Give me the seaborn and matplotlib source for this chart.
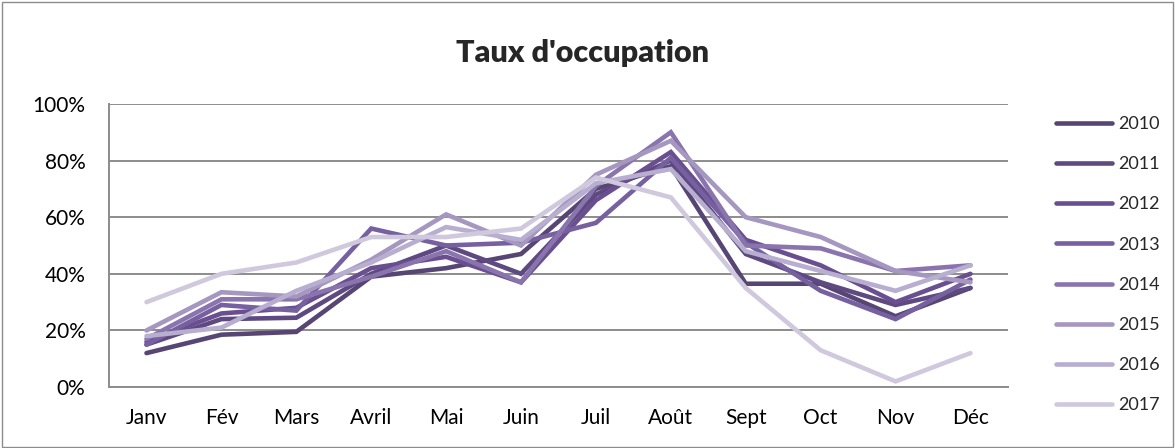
import pandas as pd
import matplotlib.pyplot as plt
import seaborn as sns
from matplotlib.patches import Rectangle
from matplotlib.ticker import PercentFormatter

# --- Data (occupancy rate, %) ---
months = ["Janv", "Fév", "Mars", "Avril", "Mai", "Juin",
          "Juil", "Août", "Sept", "Oct", "Nov", "Déc"]
years = ["2010", "2011", "2012", "2013", "2014", "2015", "2016", "2017"]

taux_2010 = [12, 18.5, 19.5, 39, 42, 47, 70, 78, 36.5, 36.5, 25, 35]
taux_2011 = [15, 24, 24.5, 40, 50, 40, 68, 80, 47, 37, 29, 35]
taux_2012 = [16, 26, 28, 42, 46, 37, 66, 83, 52, 43, 30, 40]
taux_2013 = [15, 29, 27, 56, 50, 51, 58, 81, 51, 34, 24, 38]
taux_2014 = [17, 31, 31, 39, 48, 37, 71, 90, 50, 49, 41, 43]
taux_2015 = [20, 33.5, 32, 45, 61, 50, 75, 87, 60, 53, 41, 37]
taux_2016 = [18, 21, 34, 44, 56.5, 52, 72, 77, 48, 41, 34, 43]
taux_2017 = [30, 40, 44, 53, 53, 56, 74, 67, 35, 13, 2, 12]

series = [taux_2010, taux_2011, taux_2012, taux_2013,
          taux_2014, taux_2015, taux_2016, taux_2017]
colors = ["#574673", "#5e4a80", "#694f8f", "#7660a0",
          "#8a74ae", "#a597bf", "#b8aed0", "#d0c9dd"]

df = pd.DataFrame({
    "mois": months * len(years),
    "annee": [y for y in years for _ in months],
    "taux": [v for s in series for v in s],
})
df["x"] = list(range(len(months))) * len(years)

sns.set_style("white")
plt.rcParams["font.family"] = ["Lato", "DejaVu Sans"]

fig = plt.figure(figsize=(11.75, 4.48), dpi=100)
ax = fig.add_axes([0.0928, 0.136, 0.765, 0.632])

sns.lineplot(data=df, x="x", y="taux", hue="annee", palette=colors,
             linewidth=3.3, ax=ax, legend=False, sort=False)
for line in ax.get_lines():
    line.set_solid_capstyle("round")
    line.set_solid_joinstyle("miter")

ax.set_ylim(0, 100)
ax.set_xlim(-0.5, len(months) - 0.5)
ax.set_xticks(range(len(months)))
ax.set_xticklabels(months)
ax.set_yticks(range(0, 101, 20))
ax.yaxis.set_major_formatter(PercentFormatter(decimals=0))
ax.tick_params(axis="both", labelsize=15, length=0, colors="black")
ax.tick_params(axis="y", pad=17)
ax.tick_params(axis="x", pad=15)
ax.grid(axis="y", color="#8c8c8c", linewidth=1.4)
ax.set_axisbelow(True)
ax.set_xlabel("")
ax.set_ylabel("")
for side in ["top", "right"]:
    ax.spines[side].set_visible(False)
for side in ["left", "bottom"]:
    ax.spines[side].set_color("#8c8c8c")
    ax.spines[side].set_linewidth(1.4)

fig.text(0.496, 0.881, "Taux d'occupation", ha="center", va="center",
         fontsize=22, fontweight="heavy")

# legend on the right
handles = [plt.Line2D([0], [0], color=c, linewidth=3.3, solid_capstyle="round")
           for c in colors]
fig.legend(handles, years, loc="upper left", bbox_to_anchor=(0.893, 0.757),
           frameon=False, fontsize=13, handlelength=3.1, handletextpad=0.3,
           labelspacing=1.34, borderaxespad=0)

fig.add_artist(Rectangle((0.002, 0.002), 0.996, 0.994, transform=fig.transFigure,
                         fill=False, edgecolor="#8c8c8c", linewidth=1))

fig.savefig("out.png", dpi=100)
